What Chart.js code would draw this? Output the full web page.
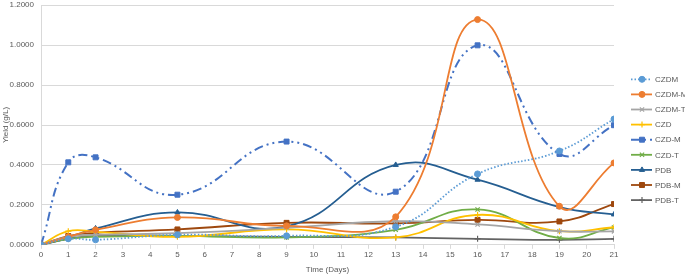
<!DOCTYPE html>
<html>
<head>
<meta charset="utf-8">
<script src="https://cdn.jsdelivr.net/npm/chart.js@4"></script>
<style>
  html, body { margin: 0; padding: 0; background: #fff; }
  #wrap { width: 685px; height: 275px; position: relative; }
</style>
</head>
<body>
<div id="wrap"><canvas id="yieldChart"></canvas></div>
<script>
// Sampling days
const days = [0, 1, 2, 5, 9, 13, 16, 19, 21];

// Yield (g/L) per culture
const czdm  = [0, 0.030, 0.025, 0.050, 0.045, 0.090, 0.355, 0.470, 0.630];
const czdmM = [0, 0.040, 0.075, 0.137, 0.095, 0.140, 1.128, 0.193, 0.410];
const czdmT = [0, 0.040, 0.050, 0.058, 0.085, 0.118, 0.102, 0.068, 0.067];
const czd   = [0, 0.068, 0.065, 0.040, 0.077, 0.037, 0.150, 0.068, 0.088];
const czdM  = [0, 0.413, 0.438, 0.251, 0.517, 0.266, 0.999, 0.455, 0.599];
const czdT  = [0, 0.030, 0.040, 0.045, 0.037, 0.075, 0.177, 0.034, 0.087];
const pdb   = [0, 0.035, 0.082, 0.162, 0.092, 0.400, 0.326, 0.189, 0.152];
const pdbM  = [0, 0.044, 0.060, 0.077, 0.110, 0.107, 0.125, 0.117, 0.204];
const pdbT  = [0, 0.030, 0.045, 0.045, 0.040, 0.037, 0.030, 0.025, 0.030];

const seriesNames = ['CZDM','CZDM-M','CZDM-T','CZD','CZD-M','CZD-T','PDB','PDB-M','PDB-T'];
const textColor = '#595959';
const font = '"Liberation Sans", sans-serif';

const pts = arr => arr.map((v, i) => ({ x: days[i], y: v }));
const mk = (label, arr, color, style, extra) => Object.assign({
  label, data: pts(arr), borderColor: color, backgroundColor: color,
  borderWidth: 1.8, pointStyle: style, pointRadius: 3, pointBorderWidth: 1,
  pointBackgroundColor: color, pointBorderColor: color, tension: 0.45, fill: false
}, extra || {});

const datasets = [
  mk(seriesNames[0], czdm,  '#5B9BD5', 'circle',   { borderDash: [1.5, 2] }),
  mk(seriesNames[1], czdmM, '#ED7D31', 'circle'),
  mk(seriesNames[2], czdmT, '#A5A5A5', 'crossRot', { pointBorderWidth: 1.2 }),
  mk(seriesNames[3], czd,   '#FFC000', 'cross',    { pointBorderWidth: 1.2 }),
  mk(seriesNames[4], czdM,  '#4472C4', 'rect',     { borderDash: [9, 4, 2, 4, 2, 4], borderWidth: 2, pointRadius: 3.5 }),
  mk(seriesNames[5], czdT,  '#70AD47', 'crossRot', { pointBorderWidth: 1.2 }),
  mk(seriesNames[6], pdb,   '#255E91', 'triangle'),
  mk(seriesNames[7], pdbM,  '#9E480E', 'rect',     { pointRadius: 3.5 }),
  mk(seriesNames[8], pdbT,  '#636363', 'cross',    { pointBorderWidth: 1.2 }),
];

// Excel-style legend: line sample with marker, then the name
const sideLegend = {
  id: 'sideLegend',
  afterDraw(chart) {
    const ctx = chart.ctx;
    ctx.save();
    chart.data.datasets.forEach((ds, i) => {
      const y = 79.3 + i * 15.1;
      ctx.strokeStyle = ds.borderColor;
      ctx.fillStyle = ds.borderColor;
      ctx.lineWidth = ds.borderWidth;
      ctx.setLineDash(ds.borderDash || []);
      ctx.beginPath(); ctx.moveTo(631, y); ctx.lineTo(652, y); ctx.stroke();
      ctx.setLineDash([]);
      ctx.lineWidth = ds.pointBorderWidth;
      Chart.helpers.drawPoint(ctx, { pointStyle: ds.pointStyle, radius: ds.pointRadius, borderWidth: ds.pointBorderWidth }, 642, y);
      ctx.fillStyle = textColor;
      ctx.font = '8px ' + font;
      ctx.textBaseline = 'middle';
      ctx.fillText(ds.label, 655, y + 0.5);
    });
    ctx.restore();
  }
};

new Chart(document.getElementById('yieldChart'), {
  type: 'line',
  data: { datasets },
  plugins: [sideLegend],
  options: {
    responsive: true, maintainAspectRatio: false, animation: false,
    layout: { padding: { left: 0, right: 71, top: 0, bottom: 0 } },
    plugins: { legend: { display: false }, tooltip: { enabled: false } },
    scales: {
      x: {
        type: 'linear', min: 0, max: 21,
        ticks: { stepSize: 1, color: textColor, font: { family: font, size: 8 }, padding: 1, maxRotation: 0 },
        grid: { drawOnChartArea: false, color: '#d9d9d9', tickLength: 4 },
        border: { color: '#d9d9d9' },
        title: { display: true, text: 'Time (Days)', color: textColor, font: { family: font, size: 8 }, padding: { top: 5, bottom: 0 } }
      },
      y: {
        min: 0, max: 1.2,
        ticks: { stepSize: 0.2, color: textColor, font: { family: font, size: 8 }, padding: 7, callback: v => v.toFixed(4) },
        grid: { color: '#d9d9d9', drawTicks: false },
        border: { color: '#d9d9d9' },
        title: { display: true, text: 'Yield (g/L)', color: textColor, font: { family: font, size: 8 }, padding: { top: 1, bottom: 0 } },
        afterFit: s => { s.width = 41; s.paddingTop = 5; }
      }
    }
  }
});
</script>
</body>
</html>
